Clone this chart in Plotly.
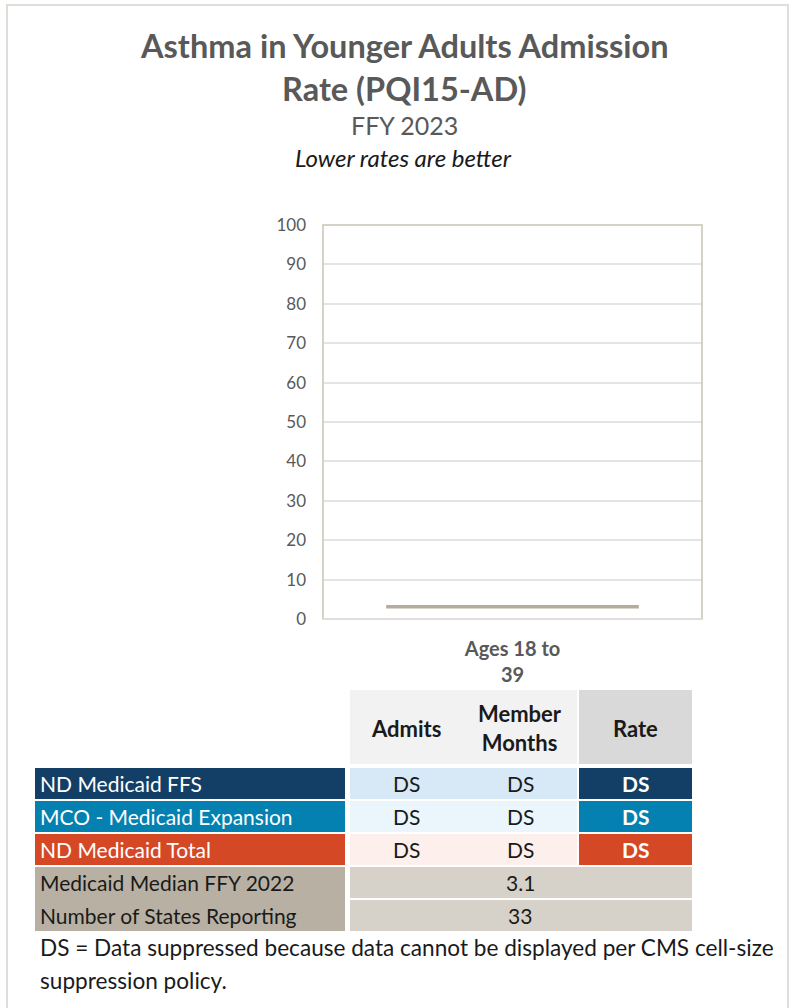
import plotly.graph_objects as go

# ---------------- data ----------------
title_lines = ["Asthma in Younger Adults Admission", "Rate (PQI15-AD)"]
subtitle = "FFY 2023"
note = "Lower rates are better"
categories = ["Ages 18 to<br>39"]
median_value = 3.1
y_ticks = [0, 10, 20, 30, 40, 50, 60, 70, 80, 90, 100]

col_headers = ["Admits", "Member<br>Months", "Rate"]
row_labels = ["ND Medicaid FFS", "MCO - Medicaid Expansion", "ND Medicaid Total"]
admits = ["DS", "DS", "DS"]
member_months = ["DS", "DS", "DS"]
rates = ["DS", "DS", "DS"]
summary_labels = ["Medicaid Median FFY 2022", "Number of States Reporting"]
summary_values = ["3.1", "33"]
footnote = "DS = Data suppressed because data cannot be displayed per CMS cell-size<br>suppression policy."

# ---------------- styling ----------------
W, H = 793, 1008
FONT = "Lato"
row_dark = ["#133f66", "#0481b0", "#d54826"]
row_light = ["#d7e8f6", "#ebf6fc", "#fcefec"]
tan_dark = "#b8b1a3"
tan_light = "#d6d1c9"


def px(x):
    return x / W


def py(y):
    return 1 - y / H


fig = go.Figure()

# median line across the category
fig.add_trace(go.Scatter(
    x=[-1 / 3, 1 / 3], y=[median_value, median_value], mode="lines",
    line=dict(color="#b5ad9c", width=3.5), hoverinfo="skip", showlegend=False))

shapes = []
annotations = []

# outer card border
shapes.append(dict(type="rect", xref="paper", yref="paper",
                   x0=px(7), x1=px(788), y0=py(1015), y1=py(5),
                   line=dict(color="#e0ddd8", width=2), fillcolor="rgba(0,0,0,0)", layer="below"))

# plot frame (top/left/right tan)
shapes.append(dict(type="rect", xref="paper", yref="paper",
                   x0=px(323), x1=px(702), y0=py(619), y1=py(225),
                   line=dict(color="#c9c3b6", width=1.5), fillcolor="rgba(0,0,0,0)", layer="above"))
shapes.append(dict(type="line", xref="paper", yref="paper",
                   x0=px(323), x1=px(702), y0=py(619), y1=py(619),
                   line=dict(color="#e2e2e2", width=1.5), layer="above"))


def text(t, x, y, color="#1a1a1a", size=18, xanchor="center", bold=False, italic=False):
    if bold:
        t = "<b>" + t + "</b>"
    if italic:
        t = "<i>" + t + "</i>"
    annotations.append(dict(text=t, x=px(x), y=py(y), xref="paper", yref="paper", showarrow=False,
                            xanchor=xanchor, yanchor="middle",
                            font=dict(family=FONT, size=size, color=color)))


def cell(x0, x1, y0, y1, color):
    shapes.append(dict(type="rect", xref="paper", yref="paper",
                       x0=px(x0), x1=px(x1), y0=py(y1), y1=py(y0),
                       line=dict(width=0), fillcolor=color, layer="below"))


# titles
text(title_lines[0], 404, 46, color="#595959", size=32.5, bold=True)
text(title_lines[1], 404, 88, color="#595959", size=32.5, bold=True)
text(subtitle, 404, 125, color="#595959", size=25)
text(note, 403, 157, color="#1a1a1a", size=24, italic=True)

# table columns
cx = [(350, 462), (463, 577), (579, 692)]
ccenter = [(a + b) / 2 for a, b in cx]

# header
cell(350, 577, 690, 764, "#f2f2f2")
cell(579, 692, 690, 764, "#d9d9d9")
for i, h in enumerate(col_headers):
    text(h, ccenter[i], 728, color="#1a1a1a", size=22, bold=True)

rows_y = [(768, 799), (801, 832), (834, 865)]
for i, lab in enumerate(row_labels):
    y0, y1 = rows_y[i]
    ym = (y0 + y1) / 2
    cell(35, 345, y0, y1, row_dark[i])
    cell(350, 577, y0, y1, row_light[i])
    cell(579, 692, y0, y1, row_dark[i])
    text(lab, 38, ym, color="white", size=21, xanchor="left")
    text(admits[i], ccenter[0], ym, color="#1a1a1a", size=21)
    text(member_months[i], ccenter[1], ym, color="#1a1a1a", size=21)
    text(rates[i], ccenter[2], ym, color="white", size=21, bold=True)

sum_y = [(867, 898), (900, 931)]
cell(35, 345, 867, 931, tan_dark)
for i, lab in enumerate(summary_labels):
    y0, y1 = sum_y[i]
    ym = (y0 + y1) / 2
    cell(350, 692, y0, y1, tan_light)
    text(lab, 38, ym, color="#1a1a1a", size=21, xanchor="left")
    text(summary_values[i], ccenter[1], ym, color="#1a1a1a", size=21)

fn_lines = footnote.split("<br>")
text(fn_lines[0], 38, 947, xanchor="left", size=22.6)
text(fn_lines[1], 38, 980, xanchor="left", size=22.6)

fig.update_layout(
    width=W, height=H, margin=dict(l=0, r=0, t=0, b=0, pad=0, autoexpand=False),
    paper_bgcolor="white", plot_bgcolor="white",
    shapes=shapes, annotations=annotations, showlegend=False,
    xaxis=dict(domain=[px(323), px(702)], range=[-0.5, 0.5], tickvals=[0], ticktext=categories,
               showgrid=False, zeroline=False, showline=False, ticks="", automargin=False,
               tickfont=dict(family=FONT, size=20, color="#595959", weight="bold"),
               ticklabelstandoff=16, fixedrange=True),
    yaxis=dict(domain=[py(619), py(225)], range=[0, 100], tickvals=y_ticks, automargin=False,
               showgrid=True, gridcolor="#e4e4e4", gridwidth=1.5, zeroline=False, showline=False, ticks="",
               tickfont=dict(family=FONT, size=17, color="#595959"), ticklabelstandoff=16, fixedrange=True),
)

fig.write_html("out.html", config={"displayModeBar": False},
               post_script="document.body.style.margin='0';document.body.style.overflow='hidden';")
